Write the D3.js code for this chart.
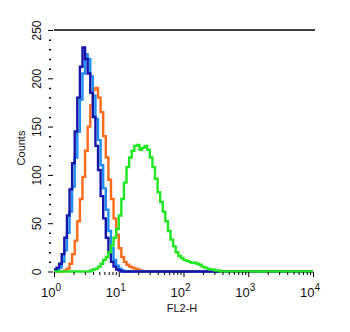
<!DOCTYPE html>
<html>
<head>
<meta charset="utf-8">
<script src="https://cdn.jsdelivr.net/npm/d3@7"></script>
<style>
  body { margin: 0; background: #fff; }
  text { font-family: "Liberation Sans", Arial, sans-serif; fill: #111; }
</style>
</head>
<body>
<script>
// Histogram channels: 25 per decade, channel i starts at 10^(i/25)
var channelsPerDecade = 25,
    nChannels = 100;

// counts per channel, each series starts at a given channel
var darkBlueStart = 0,
    darkBlue = [2, 4, 8, 18, 35, 58, 85, 112, 145, 180, 212, 232, 220, 205, 185, 160, 130, 105, 78, 55, 35, 20, 10, 5, 2, 1];
var lightBlueStart = 0,
    lightBlue = [1, 2, 4, 10, 22, 40, 62, 88, 118, 145, 178, 205, 225, 220, 202, 182, 158, 136, 110, 86, 64, 42, 24, 12, 6, 3, 1];
var orangeStart = 4,
    orange = [1, 3, 8, 18, 32, 52, 75, 98, 125, 150, 172, 188, 190, 180, 165, 140, 118, 95, 75, 55, 38, 24, 15, 10, 7, 5, 4, 3, 2, 1];
var greenStart = 14,
    green = [1, 2, 3, 5, 8, 12, 15, 20, 27, 35, 44, 58, 75, 92, 108, 118, 125, 130, 131, 126, 128, 130, 126, 118, 108, 96, 82, 72, 62, 52,
             42, 33, 26, 20, 16, 14, 12, 11, 10, 9, 9, 8, 7, 5, 4, 3, 2, 2, 1, 1];

var yMajor = [0, 50, 100, 150, 200, 250],
    yMinor = [10, 20, 30, 40, 60, 70, 80, 90, 110, 120, 130, 140, 160, 170, 180, 190, 210, 220, 230, 240],
    xMajor = [1, 10, 100, 1000, 10000];

var width = 350, height = 332;
var x = d3.scaleLog().domain([1, 1e4]).range([54, 313]),
    y = d3.scaleLinear().domain([0, 250]).range([271.5, 30]);

var svg = d3.select('body').append('svg')
    .attr('width', width)
    .attr('height', height);

// top frame line
svg.append('line')
   .attr('x1', x(1)).attr('x2', x(1e4) + 2)
   .attr('y1', y(250)).attr('y2', y(250))
   .attr('stroke', '#000').attr('stroke-width', 1.5);

// build full channel list for a series
function channels(start, counts) {
    var pts = [];
    for (var i = 0; i < nChannels; i++) {
        var c = (i >= start && i < start + counts.length) ? counts[i - start] : 0;
        pts.push([Math.pow(10, i / channelsPerDecade), c]);
    }
    pts.push([1e4, pts[pts.length - 1][1]]);
    return pts;
}

var stepLine = d3.line()
    .x(function(d) { return x(d[0]); })
    .y(function(d) { return y(d[1]); })
    .curve(d3.curveStepAfter);

var series = [
    {data: channels(orangeStart, orange), color: '#ff6a1a'},
    {data: channels(lightBlueStart, lightBlue), color: '#1e8ef5'},
    {data: channels(darkBlueStart, darkBlue), color: '#1414a8'},
    {data: channels(greenStart, green), color: '#22e622'}
];

series.forEach(function(s) {
    svg.append('path')
       .attr('d', stepLine(s.data))
       .attr('fill', 'none')
       .attr('stroke', s.color)
       .attr('stroke-width', 2.4);
});

// Y axis: major ticks with rotated labels, minor dots
var yAxis = svg.append('g')
   .attr('transform', 'translate(53,0)')
   .call(d3.axisLeft(y).tickValues(yMajor).tickSize(5));
yAxis.select('.domain').remove();
yAxis.selectAll('text')
   .attr('transform', 'rotate(-90)')
   .attr('x', 0).attr('y', -12).attr('dy', 0)
   .attr('text-anchor', 'middle')
   .style('font-size', '12px');

var yMinorAxis = svg.append('g')
   .attr('transform', 'translate(51,0)')
   .call(d3.axisLeft(y).tickValues(yMinor).tickSize(2).tickFormat(''));
yMinorAxis.select('.domain').remove();
yMinorAxis.selectAll('line').attr('stroke-width', 1.5);

// X axis: decades plus minor ticks
var xMinor = [];
xMajor.slice(0, -1).forEach(function(d) {
    for (var k = 2; k < 10; k++) xMinor.push(d * k);
});

var xAxis = svg.append('g')
   .attr('transform', 'translate(0,272)')
   .call(d3.axisBottom(x).tickValues(xMajor).tickSize(5).tickFormat(''));
xAxis.select('.domain').remove();

var xMinorAxis = svg.append('g')
   .attr('transform', 'translate(0,272)')
   .call(d3.axisBottom(x).tickValues(xMinor).tickSize(3).tickFormat(''));
xMinorAxis.select('.domain').remove();

var xLabels = svg.append('g');
xMajor.forEach(function(d, i) {
    var t = xLabels.append('text')
        .attr('x', x(d) - 3)
        .attr('y', 297)
        .attr('text-anchor', 'middle')
        .style('font-size', '13px');
    t.append('tspan').text('10');
    t.append('tspan').attr('dy', -6).style('font-size', '10px').text(i);
});

svg.append('text')
   .text('FL2-H')
   .attr('x', 182)
   .attr('y', 312)
   .attr('text-anchor', 'middle')
   .style('font-size', '11px');

svg.append('text')
   .text('Counts')
   .attr('transform', 'translate(25,148) rotate(-90)')
   .attr('text-anchor', 'middle')
   .style('font-size', '11px');
</script>
</body>
</html>
